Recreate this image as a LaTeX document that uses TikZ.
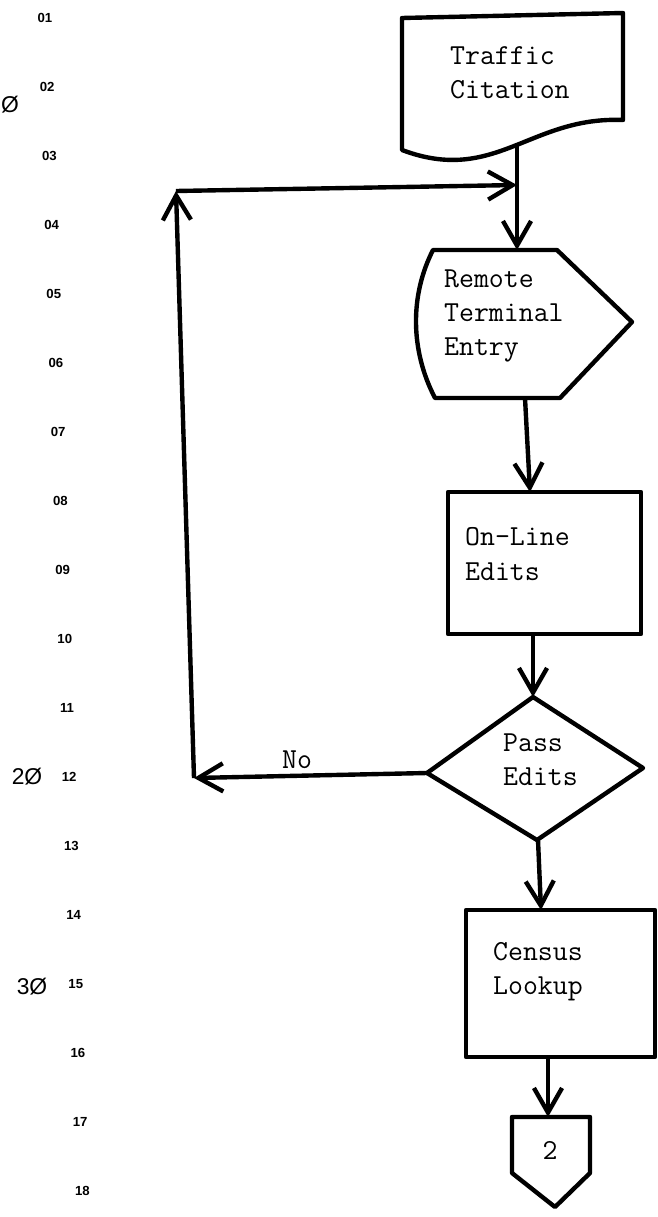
\documentclass[tikz,border=0pt]{standalone}
\usepackage{fontspec}
\newfontfamily\marginfont{Liberation Sans}
\usetikzlibrary{arrows.meta}

\begin{document}
\begin{tikzpicture}[x=0.02cm, y=-0.02cm, line width=2.5pt, line join=round,
    flow/.style={-{Straight Barb[length=14pt,width=16pt]}},
    boxtext/.style={font=\ttfamily\fontsize{16.5}{19.5}\selectfont, align=left, inner sep=0pt},
    linenum/.style={font=\marginfont\bfseries\fontsize{7.5}{8}\selectfont, inner sep=0pt},
    bignum/.style={font=\marginfont\fontsize{13}{14}\selectfont, inner sep=0pt}]

  \useasboundingbox (0,0) rectangle (658,1217);

  \foreach \n [count=\i] in {01,02,03,04,05,06,07,08,09,10,11,12,13,14,15,16,17,18}{
    \node[linenum] (ln\n) at ({45+(\i-1)*2.2},{18+(\i-1)*69}) {\n};
  }
  \node[bignum, anchor=east] (m10) at (21,105) {1Ø};
  \node[bignum] (m20) at (27,777) {2Ø};
  \node[bignum] (m30) at (32,987) {3Ø};

  \draw (402,18) -- (623,13) -- (623,120) .. controls (530,116) and (495,185) .. (402,150) -- cycle;
  \node[boxtext, anchor=west] (citation) at (448,73) {Traffic\\Citation};

  \draw (433,250) -- (557,250) -- (632,322) -- (560,398) -- (435,398)
    .. controls (410,350) and (410,295) .. (433,250) -- cycle;
  \node[boxtext, anchor=west] (entry) at (442,316) {Remote\\Terminal\\Entry};

  \draw (448,492) rectangle (641,634);
  \node[boxtext, anchor=west] (edits) at (463,554) {On-Line\\Edits};

  \draw (427,773) -- (533,697) -- (643,768) -- (537,840) -- cycle;
  \node[boxtext, anchor=west] (pass) at (501,760) {Pass\\Edits};

  \draw (466,910) rectangle (655,1057);
  \node[boxtext, anchor=west] (census) at (491,972) {Census\\Lookup};

  \draw (512,1117) -- (590,1117) -- (590,1173) -- (555,1207) -- (512,1173) -- cycle;
  \node[boxtext] (pageref) at (550,1150) {2};

  \coordinate (docout) at (517,144);
  \coordinate (dispin) at (517,250);
  \coordinate (dispout) at (525,398);
  \coordinate (editin) at (530,492);
  \coordinate (editout) at (533,634);
  \coordinate (passin) at (533,697);
  \coordinate (passno) at (427,773);
  \coordinate (passout) at (538,840);
  \coordinate (censin) at (541,910);
  \coordinate (censout) at (548,1057);
  \coordinate (connin) at (548,1117);
  \coordinate (loopb) at (194,778);
  \coordinate (loopt) at (176,191);
  \coordinate (loopin) at (517,185);

  \draw[flow] (docout) -- (dispin);
  \draw[flow] (dispout) -- (editin);
  \draw[flow] (editout) -- (passin);
  \draw[flow] (passout) -- (censin);
  \draw[flow] (censout) -- (connin);
  \draw[flow] (passno) -- (loopb);
  \draw[flow] (loopb) -- (loopt);
  \draw[flow] (loopt) -- (loopin);
  \node[boxtext] (no) at (297,760) {No};
\end{tikzpicture}
\end{document}
